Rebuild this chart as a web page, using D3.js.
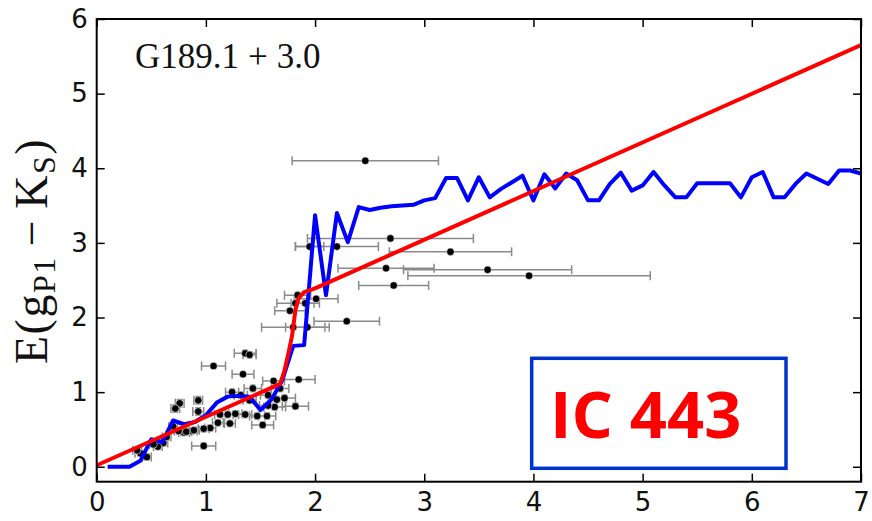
<!DOCTYPE html>
<html><head><meta charset="utf-8">
<script src="https://cdn.jsdelivr.net/npm/d3@7/dist/d3.min.js"></script>
<style>html,body{margin:0;padding:0;background:#fff}</style>
</head><body>
<svg id="chart" width="872" height="521"></svg>
<script>
// Axis ticks
const xTicks = [0, 1, 2, 3, 4, 5, 6, 7];
const yTicks = [0, 1, 2, 3, 4, 5, 6];

// Blue: extinction profile along the line of sight (distance in kpc)
const blueX = [0.1,0.2,0.3,0.4,0.5,0.6,0.7,0.8,0.9,1.0,1.1,1.2,1.3,1.4,1.5,1.6,1.7,1.8,1.9,2.0,
  2.1,2.2,2.3,2.4,2.5,2.6,2.7,2.8,2.9,3.0,3.1,3.2,3.3,3.4,3.5,3.6,3.7,3.8,3.9,4.0,
  4.1,4.2,4.3,4.4,4.5,4.6,4.7,4.8,4.9,5.0,5.1,5.2,5.3,5.4,5.5,5.6,5.7,5.8,5.9,6.0,
  6.1,6.2,6.3,6.4,6.5,6.6,6.7,6.8,6.9,7.0];
const blueY = [0.00,0.00,0.00,0.08,0.37,0.33,0.62,0.57,0.60,0.69,0.86,0.94,0.95,0.94,0.76,0.90,1.16,1.62,1.63,3.37,
  2.30,3.40,3.01,3.48,3.44,3.47,3.49,3.50,3.51,3.57,3.60,3.87,3.87,3.57,3.88,3.61,3.72,3.81,3.90,3.57,
  3.92,3.73,3.93,3.84,3.57,3.57,3.79,3.94,3.70,3.77,3.95,3.77,3.61,3.61,3.80,3.80,3.80,3.80,3.61,3.88,
  3.95,3.61,3.61,3.79,3.93,3.86,3.79,3.97,3.97,3.93];

// Red: fitted two-slope model with a jump near 1.8 kpc
const redX = [0.00, 1.68, 1.72, 1.76, 1.79, 1.82, 1.85, 1.90, 2.00, 7.00];
const redY = [0.02, 1.11, 1.29, 1.55, 1.76, 2.10, 2.26, 2.34, 2.39, 5.65];

// Stars: distance, colour excess and their uncertainties
const starX = [2.46,2.69,1.95,2.20,3.24,2.65,3.58,3.96,2.72,2.29,1.84,2.01,1.82,1.91,1.77,1.80,1.93,
  1.85,1.62,1.07,1.34,1.36,1.40,0.98,
  1.24,1.32,1.43,1.68,0.93,0.76,0.72,0.93,1.40,1.57,1.65,1.72,1.82,1.63,1.57,
  1.13,1.20,1.27,1.36,1.47,1.56,1.11,1.22,1.04,0.98,1.52,0.87,0.80,0.75,0.70,
  0.61,0.56,0.46,0.40,0.37,0.52,0.64,0.89,0.82];
const starY = [4.10,3.06,2.95,2.95,2.88,2.66,2.64,2.56,2.43,1.95,2.30,2.25,2.19,2.19,2.09,1.87,1.87,
  1.17,1.15,1.35,1.24,1.52,1.50,0.28,
  1.00,0.96,1.05,1.05,0.89,0.85,0.78,0.74,0.89,0.96,0.90,0.92,0.81,0.80,0.82,
  0.70,0.70,0.71,0.70,0.68,0.68,0.59,0.58,0.52,0.51,0.56,0.48,0.46,0.48,0.54,
  0.32,0.27,0.13,0.18,0.22,0.30,0.40,0.49,0.47];
const starXErr = [0.67,0.76,0.13,0.38,0.56,0.44,0.77,1.11,0.32,0.30,0.12,0.20,0.17,0.13,0.14,0.29,0.20,
  0.15,0.10,0.11,0.10,0.10,0.06,0.11,
  0.06,0.06,0.08,0.08,0.04,0.04,0.04,0.05,0.06,0.07,0.08,0.10,0.12,0.10,0.08,
  0.05,0.05,0.06,0.06,0.07,0.08,0.05,0.05,0.05,0.05,0.10,0.05,0.05,0.04,0.04,
  0.04,0.04,0.04,0.05,0.04,0.04,0.04,0.05,0.05];
const starYErr = [0.01,0.01,0.01,0.01,0.01,0.01,0.01,0.01,0.01,0.01,0.02,0.02,0.02,0.02,0.02,0.01,0.01,
  0.02,0.02,0.03,0.03,0.04,0.04,0.04,
  0.04,0.04,0.04,0.04,0.05,0.05,0.05,0.05,0.04,0.04,0.04,0.04,0.04,0.04,0.04,
  0.04,0.04,0.04,0.04,0.04,0.04,0.04,0.04,0.04,0.04,0.04,0.04,0.04,0.04,0.04,
  0.04,0.04,0.04,0.04,0.04,0.04,0.04,0.04,0.04];

const svg = d3.select("#chart");
const L = 96.7, R = 861, T = 19, B = 481.7;
const x = d3.scaleLinear().domain([0, 7]).range([L, R]);
const y = d3.scaleLinear().domain([-0.2, 6]).range([B, T]);

svg.append("clipPath").attr("id", "plotclip")
  .append("rect").attr("x", L).attr("y", T).attr("width", R - L).attr("height", B - T);

const plot = svg.append("g").attr("clip-path", "url(#plotclip)");

// error bars: horizontal (distance) with caps, small vertical (colour excess) with caps
const stars = starX.map((v, i) => ({ x: v, y: starY[i], ex: starXErr[i], ey: starYErr[i] }));
const eb = plot.append("g").attr("stroke", "#8a8a8a").attr("stroke-width", 1.5).attr("fill", "none");
const cap = 4.5, vcap = 3;
stars.forEach(d => {
  const cy = y(d.y), x0 = x(d.x - d.ex), x1 = x(d.x + d.ex);
  eb.append("line").attr("x1", x0).attr("x2", x1).attr("y1", cy).attr("y2", cy);
  eb.append("line").attr("x1", x0).attr("x2", x0).attr("y1", cy - cap).attr("y2", cy + cap);
  eb.append("line").attr("x1", x1).attr("x2", x1).attr("y1", cy - cap).attr("y2", cy + cap);
  const cx = x(d.x), y0 = y(d.y - d.ey), y1 = y(d.y + d.ey);
  eb.append("line").attr("x1", cx).attr("x2", cx).attr("y1", y0).attr("y2", y1);
  eb.append("line").attr("x1", cx - vcap).attr("x2", cx + vcap).attr("y1", y0).attr("y2", y0);
  eb.append("line").attr("x1", cx - vcap).attr("x2", cx + vcap).attr("y1", y1).attr("y2", y1);
});

plot.append("g").selectAll("circle").data(stars).join("circle")
  .attr("cx", d => x(d.x)).attr("cy", d => y(d.y)).attr("r", 3.8)
  .attr("fill", "#000").attr("stroke", "#fff").attr("stroke-width", 0.6);

const line = d3.line().x(d => x(d[0])).y(d => y(d[1]));
plot.append("path").datum(blueX.map((v, i) => [v, blueY[i]]))
  .attr("d", line).attr("fill", "none").attr("stroke", "#0000ff")
  .attr("stroke-width", 4).attr("stroke-linejoin", "round");
plot.append("path").datum(redX.map((v, i) => [v, redY[i]]))
  .attr("d", line).attr("fill", "none").attr("stroke", "#ff0000")
  .attr("stroke-width", 4).attr("stroke-linejoin", "round");

// axes with inward ticks on all four sides
const tickFont = "'DejaVu Sans', sans-serif";
const gx = svg.append("g").attr("transform", `translate(0,${B})`)
  .call(d3.axisBottom(x).tickValues(xTicks).tickFormat(d3.format("d")).tickSizeInner(-8).tickSizeOuter(0).tickPadding(11));
const gxt = svg.append("g").attr("transform", `translate(0,${T})`)
  .call(d3.axisTop(x).tickValues(xTicks).tickFormat("").tickSizeInner(-8).tickSizeOuter(0));
const gy = svg.append("g").attr("transform", `translate(${L},0)`)
  .call(d3.axisLeft(y).tickValues(yTicks).tickFormat(d3.format("d")).tickSizeInner(-8).tickSizeOuter(0).tickPadding(9));
const gyr = svg.append("g").attr("transform", `translate(${R},0)`)
  .call(d3.axisRight(y).tickValues(yTicks).tickFormat("").tickSizeInner(-8).tickSizeOuter(0));
[gx, gxt, gy, gyr].forEach(g => {
  g.select(".domain").remove();
  g.selectAll(".tick line").attr("stroke", "#000").attr("stroke-width", 1.5);
  g.selectAll(".tick text").attr("fill", "#111").style("font-family", tickFont).style("font-size", "26px");
});

// frame
svg.append("rect").attr("x", L).attr("y", T).attr("width", R - L).attr("height", B - T)
  .attr("fill", "none").attr("stroke", "#000").attr("stroke-width", 2);

// y-axis title (math-style spacing)
const serif = "'Liberation Serif', 'Times New Roman', serif";
const yt = svg.append("text").attr("transform", "translate(47,251) rotate(-90)")
  .attr("text-anchor", "middle").style("font-family", serif).style("font-size", "46px")
  .style("letter-spacing", "1.5px").attr("fill", "#111");
yt.append("tspan").text("E(g");
yt.append("tspan").attr("dy", 8).style("font-size", "32px").text("P1");
yt.append("tspan").attr("dy", -8).attr("dx", 10).text("\u2212");
yt.append("tspan").attr("dx", 10).text("K");
yt.append("tspan").attr("dy", 8).style("font-size", "32px").text("S");
yt.append("tspan").attr("dy", -8).text(")");

// field name
const fn = svg.append("text").attr("x", 135).attr("y", 68).style("font-family", serif).style("font-size", "35px")
  .attr("fill", "#111");
fn.append("tspan").text("G189.1");
fn.append("tspan").attr("dx", 9).text("+");
fn.append("tspan").attr("dx", 9).text("3.0");

// source label box
svg.append("rect").attr("x", 531.7).attr("y", 358.3).attr("width", 254.3).attr("height", 110)
  .attr("fill", "#fff").attr("stroke", "#0033cc").attr("stroke-width", 3.5);
svg.append("text").attr("x", 550).attr("y", 438)
  .style("font-family", "'Open Sans', sans-serif").style("font-weight", 700).style("font-size", "65px")
  .attr("fill", "#ff0000").text("IC 443");
</script>
</body></html>
